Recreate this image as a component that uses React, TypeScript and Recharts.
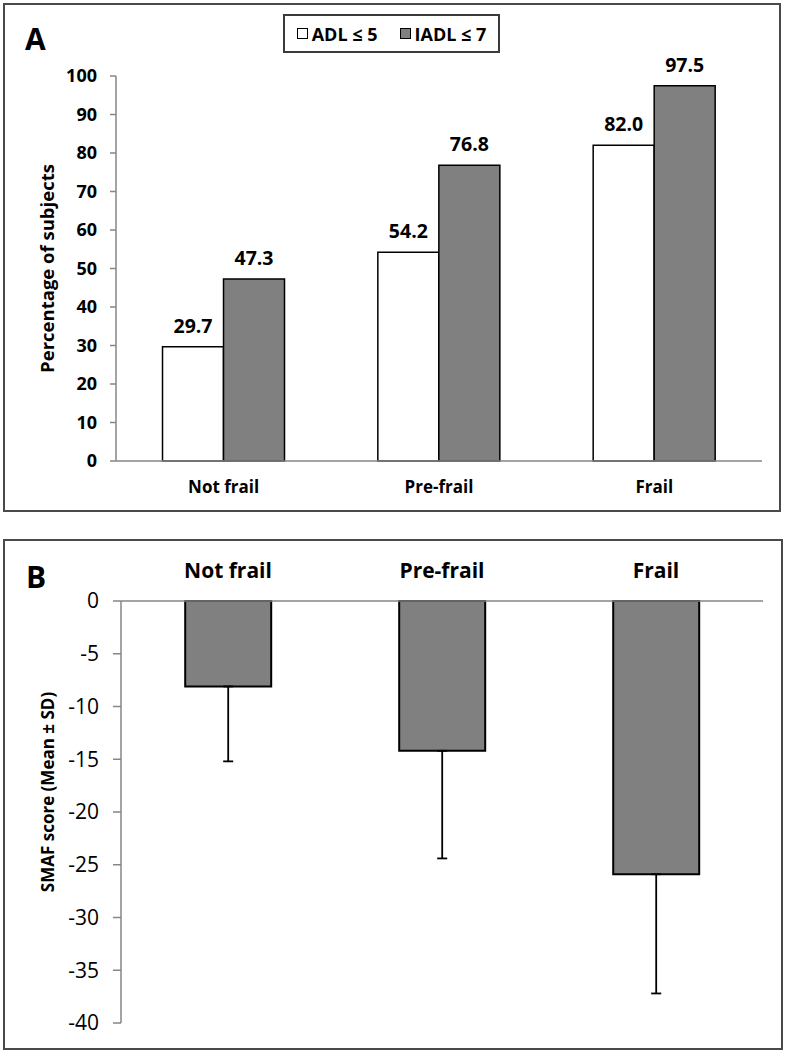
import React from 'react';
import { BarChart, Bar, XAxis, YAxis, LabelList, ErrorBar, Legend, Label } from 'recharts';

const categories = ['Not frail', 'Pre-frail', 'Frail'];
const seriesNames = ['ADL ≤ 5', 'IADL ≤ 7'];
const seriesColors = ['#ffffff', '#808080'];
const adlValues = [29.7, 54.2, 82.0];
const iadlValues = [47.3, 76.8, 97.5];
const percentTicks = [0, 10, 20, 30, 40, 50, 60, 70, 80, 90, 100];

const smafMeans = [-8.1, -14.2, -25.9];
const smafSD = [7.1, 10.2, 11.3];
const smafTicks = [0, -5, -10, -15, -20, -25, -30, -35, -40];
const boundaryTicks = [0, 1, 2, 3];

const dataA = categories.map((name, i) => ({ name, adl: adlValues[i], iadl: iadlValues[i] }));
const dataB = categories.map((name, i) => ({ name, mean: smafMeans[i], err: [smafSD[i], 0] }));

const AXIS = '#868686';
const FONT = '"Open Sans", "Noto Sans", sans-serif';

const VTitle = (props: any) => {
  const { viewBox, value, cx, dy, fontSize } = props;
  const cy = viewBox.y + viewBox.height / 2 + (dy || 0);
  return (
    <text
      x={cx}
      y={cy}
      transform={`rotate(-90 ${cx} ${cy})`}
      textAnchor="middle"
      dominantBaseline="central"
      fontWeight={700}
      fontSize={fontSize}
      fill="#000"
    >
      {value}
    </text>
  );
};

const LegendBox = (props: any) => {
  const payload = props.payload || [];
  return (
    <div
      style={{
        border: '2px solid #3a3a3a',
        width: 217,
        height: 39,
        boxSizing: 'border-box',
        display: 'flex',
        alignItems: 'center',
        justifyContent: 'center',
        gap: 22,
        fontWeight: 700,
        fontSize: 18,
        fontFamily: FONT,
        background: '#fff',
        color: '#000',
      }}
    >
      {payload.map((p: any, i: number) => (
        <span key={i} style={{ display: 'flex', alignItems: 'center' }}>
          <span
            style={{
              display: 'inline-block',
              width: 11,
              height: 11,
              boxSizing: 'border-box',
              border: '1.5px solid #000',
              background: seriesColors[i],
              marginRight: 4,
            }}
          />
          {p.value}
        </span>
      ))}
    </div>
  );
};

export default function App() {
  return (
    <div style={{ position: 'fixed', left: 0, top: 0, width: 786, height: 1052, fontFamily: FONT, background: '#fff' }}>
      <div style={{ position: 'absolute', left: 25, top: 24, fontSize: 30, lineHeight: 1, fontWeight: 700 }}>A</div>
      <div style={{ position: 'absolute', left: 26, top: 562, fontSize: 30, lineHeight: 1, fontWeight: 700 }}>B</div>

      <div style={{ position: 'absolute', left: 0, top: 0 }}>
        <BarChart width={786} height={520} data={dataA} margin={{ top: 76, right: 24, bottom: 28, left: 56 }} barGap={0} barCategoryGap="21.6%">
          <XAxis xAxisId="grid" type="number" domain={[0, 3]} ticks={boundaryTicks} height={1} tick={false} axisLine={false} tickSize={6} tickLine={{ stroke: AXIS, strokeWidth: 1.5 }} />
          <XAxis xAxisId="cat" dataKey="name" height={30} tickLine={false} tickSize={6} tickMargin={14} axisLine={{ stroke: AXIS, strokeWidth: 1.5 }} tick={{ fill: '#000', fontWeight: 700, fontSize: 17 }} />
          <YAxis domain={[0, 100]} ticks={percentTicks} width={60} tickSize={6} tickMargin={13} axisLine={{ stroke: AXIS, strokeWidth: 1.5 }} tickLine={{ stroke: AXIS, strokeWidth: 1.5 }} tick={{ fill: '#000', fontWeight: 700, fontSize: 18 }}>
            <Label content={(p: any) => <VTitle {...p} value="Percentage of subjects" cx={46} fontSize={18.5} />} />
          </YAxis>
          <Legend verticalAlign="middle" align="center" layout="horizontal" wrapperStyle={{ top: 14, left: 283, width: 217, height: 39 }} content={(p: any) => <LegendBox {...p} />} />
          <Bar xAxisId="cat" dataKey="adl" name={seriesNames[0]} fill={seriesColors[0]} stroke="#000" strokeWidth={1.5} isAnimationActive={false}>
            <LabelList dataKey="adl" position="top" offset={14} formatter={(v: any) => Number(v).toFixed(1)} style={{ fill: '#000', fontWeight: 700, fontSize: 19.5 }} />
          </Bar>
          <Bar xAxisId="cat" dataKey="iadl" name={seriesNames[1]} fill={seriesColors[1]} stroke="#000" strokeWidth={1.5} isAnimationActive={false}>
            <LabelList dataKey="iadl" position="top" offset={14} formatter={(v: any) => Number(v).toFixed(1)} style={{ fill: '#000', fontWeight: 700, fontSize: 19.5 }} />
          </Bar>
        </BarChart>
      </div>

      <div style={{ position: 'absolute', left: 0, top: 520 }}>
        <BarChart width={786} height={532} data={dataB} margin={{ top: 40, right: 23, bottom: 29, left: 56 }} barCategoryGap="30%">
          <XAxis xAxisId="grid" orientation="top" type="number" domain={[0, 3]} ticks={boundaryTicks} height={1} tick={false} axisLine={false} tickSize={-8} tickLine={{ stroke: AXIS, strokeWidth: 1.5 }} />
          <XAxis xAxisId="cat" orientation="top" dataKey="name" height={40} tickLine={false} tickSize={6} tickMargin={17} axisLine={{ stroke: AXIS, strokeWidth: 1.5 }} tick={{ fill: '#000', fontWeight: 700, fontSize: 21 }} />
          <YAxis domain={[-40, 0]} ticks={smafTicks} width={65} tickSize={8} tickMargin={14} axisLine={{ stroke: AXIS, strokeWidth: 1.5 }} tickLine={{ stroke: AXIS, strokeWidth: 1.5 }} tick={{ fill: '#000', fontSize: 21 }}>
            <Label content={(p: any) => <VTitle {...p} value="SMAF score (Mean ± SD)" cx={47} dy={-20} fontSize={17} />} />
          </YAxis>
          <Bar xAxisId="cat" dataKey="mean" fill="#808080" stroke="#000" strokeWidth={2} isAnimationActive={false}>
            <ErrorBar dataKey="err" direction="y" width={5} stroke="#000" strokeWidth={1.8} />
          </Bar>
        </BarChart>
      </div>

      <div style={{ position: 'absolute', left: 3, top: 3, width: 778, height: 509, border: '2px solid #4a4a4a', boxSizing: 'border-box', pointerEvents: 'none' }} />
      <div style={{ position: 'absolute', left: 3, top: 539, width: 780, height: 511, border: '2px solid #4a4a4a', boxSizing: 'border-box', pointerEvents: 'none' }} />
    </div>
  );
}
